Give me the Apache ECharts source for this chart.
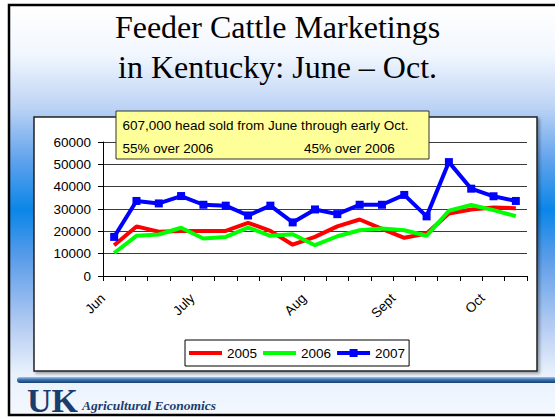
<!DOCTYPE html>
<html>
<head>
<meta charset="utf-8">
<script src="https://cdn.jsdelivr.net/npm/echarts@6/dist/echarts.min.js"></script>
<style>
html,body{margin:0;padding:0;background:#fff;}
#chart{width:555px;height:417px;}
</style>
</head>
<body>
<div id="chart"></div>
<script>
// ---- data ----
const weeks = ['Wk1','Wk2','Wk3','Wk4','Wk5','Wk6','Wk7','Wk8','Wk9','Wk10','Wk11','Wk12','Wk13','Wk14','Wk15','Wk16','Wk17','Wk18','Wk19'];
const monthLabels = ['Jun','','','','July','','','','','Aug','','','','Sept','','','','Oct','',''];
const v2005 = [13800, 22200, 19800, 20200, 20100, 20200, 23800, 20200, 14000, 17500, 22200, 25300, 21100, 17100, 19000, 28000, 29800, 30700, 30300];
const v2006 = [10300, 18000, 18600, 21600, 16800, 17500, 21700, 18000, 18700, 13800, 17800, 20500, 21300, 20500, 18000, 29200, 31800, 29500, 26800];
const v2007 = [17500, 33600, 32500, 35800, 31900, 31500, 27100, 31500, 24000, 29800, 27700, 31900, 31900, 36300, 26700, 51000, 39100, 35700, 33600];
const yTicks = [0, 10000, 20000, 30000, 40000, 50000, 60000];
const titleText = 'Feeder Cattle Marketings\nin Kentucky: June \u2013 Oct.';
const noteLine1 = '607,000 head sold from June through early Oct.';
const noteLeft = '55% over 2006';
const noteRight = '45% over 2006';

const chart = echarts.init(document.getElementById('chart'), null, {renderer: 'svg'});
const sans = 'Liberation Sans, Arial, sans-serif';
const serif = 'Liberation Serif, Times New Roman, serif';

const lineIcon = 'path://M0,0 H33 V4 H0 Z';
const lineSquareIcon = 'path://M0,2 H12.5 V0 H20.5 V2 H33 V6 H20.5 V8 H12.5 V6 H0 Z';

const option = {
  animation: false,
  backgroundColor: '#ffffff',
  title: {
    text: titleText,
    left: 'center',
    top: 2,
    textStyle: {fontFamily: serif, fontSize: 32, fontWeight: 'normal', color: '#000', lineHeight: 40}
  },
  graphic: [
    {type: 'rect', z: -20, silent: true,
     shape: {x: 9, y: 5, width: 560, height: 410},
     style: {
       fill: new echarts.graphic.LinearGradient(0, 0, 0, 1, [
         {offset: 0, color: '#ffffff'},
         {offset: 0.12, color: '#f2f7fe'},
         {offset: 0.25, color: '#bcd3f5'},
         {offset: 0.38, color: '#5fa2ec'},
         {offset: 0.5, color: '#0a86e8'},
         {offset: 0.62, color: '#5c9de9'},
         {offset: 0.78, color: '#b3cbf2'},
         {offset: 0.9, color: '#e9f1fc'},
         {offset: 1, color: '#f4f8ff'}
       ]),
       stroke: '#000', lineWidth: 2.5
     }},
    {type: 'rect', z: -10, silent: true,
     shape: {x: 34, y: 117, width: 503, height: 254},
     style: {fill: '#ffffff', stroke: '#222', lineWidth: 1.5, shadowBlur: 3, shadowOffsetX: 2, shadowOffsetY: 2, shadowColor: 'rgba(0,0,0,0.35)'}},
    {type: 'rect', z: -10, silent: true,
     shape: {x: 17, y: 377, width: 545, height: 6, r: 3},
     style: {fill: new echarts.graphic.LinearGradient(0, 0, 0, 1, [
       {offset: 0, color: '#a4c4ea'},
       {offset: 0.45, color: '#3a72ae'},
       {offset: 1, color: '#173f70'}
     ])}},
    {type: 'text', z: 10, silent: true,
     style: {text: 'UK', x: 27, y: 400, font: 'bold 34px ' + serif, fill: '#1b3d6d', verticalAlign: 'middle', align: 'left'}},
    {type: 'text', z: 10, silent: true,
     style: {text: 'Agricultural Economics', x: 82, y: 405, font: 'italic bold 13.5px ' + serif, fill: '#1b3d6d', verticalAlign: 'middle', align: 'left'}},
    {type: 'rect', z: 100, silent: true,
     shape: {x: 116, y: 111, width: 313, height: 48},
     style: {fill: '#ffff99', stroke: '#333', lineWidth: 1}},
    {type: 'text', z: 101, silent: true,
     style: {text: noteLine1, x: 122.5, y: 125, font: '13.5px ' + sans, fill: '#000', verticalAlign: 'middle'}},
    {type: 'text', z: 101, silent: true,
     style: {text: noteLeft, x: 122.5, y: 148, font: '13.5px ' + sans, fill: '#000', verticalAlign: 'middle'}},
    {type: 'text', z: 101, silent: true,
     style: {text: noteRight, x: 304, y: 148, font: '13.5px ' + sans, fill: '#000', verticalAlign: 'middle'}}
  ],
  legend: {
    left: 185, top: 340,
    orient: 'horizontal',
    backgroundColor: '#fff',
    borderColor: '#000', borderWidth: 1,
    padding: [6, 4],
    itemGap: 6,
    itemWidth: 33, itemHeight: 12,
    textStyle: {fontFamily: sans, fontSize: 13.5, color: '#000'},
    data: [
      {name: '2005', icon: lineIcon, itemStyle: {color: '#ff0000'}},
      {name: '2006', icon: lineIcon, itemStyle: {color: '#00ff00'}},
      {name: '2007', icon: lineSquareIcon, itemStyle: {color: '#0000ff'}}
    ]
  },
  grid: {left: 103, right: 28, top: 142, bottom: 141, containLabel: false},
  xAxis: [
    {
      type: 'category', data: weeks, boundaryGap: true, position: 'bottom',
      axisLine: {lineStyle: {color: '#000', width: 1}},
      axisTick: {show: true, interval: 0, length: 5, lineStyle: {color: '#000'}},
      axisLabel: {show: false},
      splitLine: {show: false}
    },
    {
      type: 'category', data: monthLabels, boundaryGap: false, position: 'bottom', offset: 0,
      axisLine: {show: false},
      axisTick: {show: false},
      splitLine: {show: false},
      axisLabel: {show: true, interval: 0, rotate: 45, margin: 20, fontFamily: sans, fontSize: 13.5, color: '#000'}
    }
  ],
  yAxis: {
    type: 'value', min: yTicks[0], max: yTicks[yTicks.length - 1], interval: 10000,
    axisLine: {show: true, lineStyle: {color: '#000', width: 1}},
    axisTick: {show: true, length: 5, lineStyle: {color: '#000'}},
    axisLabel: {fontFamily: sans, fontSize: 13.5, color: '#000', margin: 12, formatter: function (v) { return String(v); }},
    splitLine: {show: true, lineStyle: {color: '#3a3a3a', width: 1}}
  },
  series: [
    {name: '2005', type: 'line', xAxisIndex: 0, data: v2005, symbol: 'none', showSymbol: false,
     lineStyle: {color: '#ff0000', width: 4}, itemStyle: {color: '#ff0000'}},
    {name: '2006', type: 'line', xAxisIndex: 0, data: v2006, symbol: 'none', showSymbol: false,
     lineStyle: {color: '#00ff00', width: 4}, itemStyle: {color: '#00ff00'}},
    {name: '2007', type: 'line', xAxisIndex: 0, data: v2007, symbol: 'rect', symbolSize: 8, showSymbol: true,
     lineStyle: {color: '#0000ff', width: 4}, itemStyle: {color: '#0000ff'}}
  ]
};
chart.setOption(option);
</script>
</body>
</html>
